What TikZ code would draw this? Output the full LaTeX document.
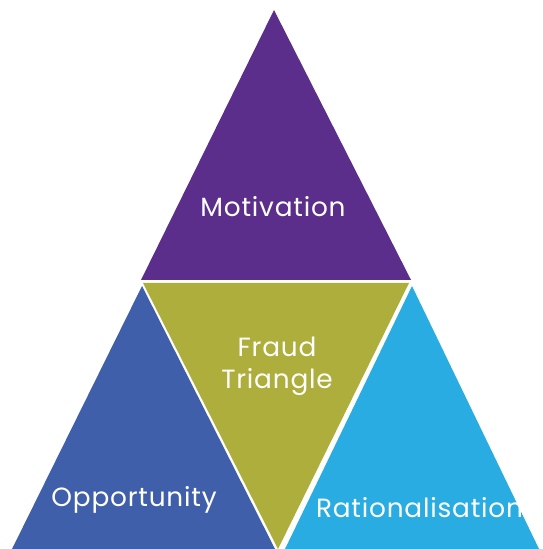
\documentclass[tikz,border=0pt]{standalone}
\usepackage{fontspec}
\setmainfont{Poppins}[LetterSpace=3]
\definecolor{motivcol}{RGB}{91,46,140}
\definecolor{opportcol}{RGB}{64,95,170}
\definecolor{fraudcol}{RGB}{173,174,59}
\definecolor{rationcol}{RGB}{41,172,226}
\tikzset{
    motivation/.style={fill=motivcol},
    opportunity/.style={fill=opportcol},
    fraud/.style={fill=fraudcol},
    rationalisation/.style={fill=rationcol},
    txt/.style={text=white, font=\fontsize{15}{18}\selectfont, align=center, inner sep=0pt},
}

\begin{document}
\begin{tikzpicture}
		\useasboundingbox (0,0) rectangle (10.84,10.98);
		% The top triangle
		\path[motivation]  (5.48,10.78) -- (2.82,5.38) -- (8.22,5.38) -- cycle ;
		% The upside-down one in the middle
		\path[fraud]  (2.86,5.32) -- (8.18,5.32) -- (5.56,0) -- cycle ;
		% The two at the bottom corners
		\path[opportunity]  (2.84,5.26) -- (0.24,0) -- (5.50,0) -- cycle ;
		\path[rationalisation]  (8.24,5.26) -- (5.70,0) -- (10.78,0) -- cycle ;
		% Labels
		\node[txt, anchor=base] (motiv) at (5.46,6.65) {Motivation};
		\node[txt] (fraud) at (5.54,3.65) {Fraud\\Triangle};
		\node[txt, anchor=base] (opport) at (2.68,0.85) {Opportunity};
		\node[txt, anchor=base] (ration) at (8.39,0.63) {Rationalisation};
	\end{tikzpicture}
\end{document}
